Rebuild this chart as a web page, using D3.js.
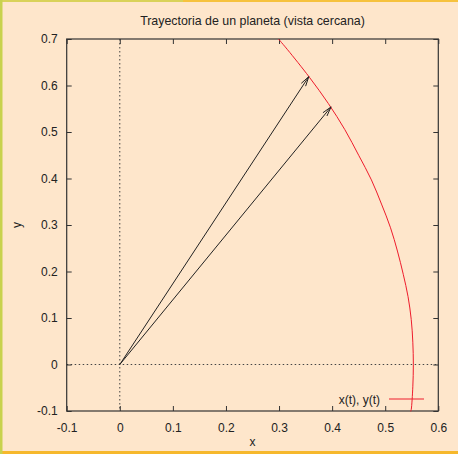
<!DOCTYPE html>
<html>
<head>
<meta charset="utf-8">
<script src="https://d3js.org/d3.v7.min.js"></script>
<style>
  body { margin: 0; background: #fee6cb; }
  svg { display: block; }
  text { font-family: "Liberation Sans", Arial, sans-serif; fill: #222; }
</style>
</head>
<body>
<script>
// orbit points (x, y)
var orbitX = [0.299, 0.316, 0.357, 0.393, 0.424, 0.450, 0.474, 0.493, 0.510, 0.523, 0.534, 0.543, 0.549, 0.552, 0.553, 0.552, 0.549, 0.548];
var orbitY = [0.700, 0.677, 0.618, 0.561, 0.505, 0.450, 0.397, 0.345, 0.294, 0.244, 0.194, 0.146, 0.097, 0.048, 0.000, -0.048, -0.097, -0.101];

// position vectors drawn as arrows from the origin
var arrowX = [0.356, 0.398];
var arrowY = [0.619, 0.554];

var xTicks = [-0.1, 0, 0.1, 0.2, 0.3, 0.4, 0.5, 0.6];
var yTicks = [-0.1, 0, 0.1, 0.2, 0.3, 0.4, 0.5, 0.6, 0.7];

var title = "Trayectoria de un planeta (vista cercana)";
var legendLabel = "x(t), y(t)";

var width = 458, height = 454;
var plotL = 66.7, plotR = 438.3, plotT = 39, plotB = 411;

var svg = d3.select("body").append("svg")
  .attr("width", width)
  .attr("height", height);

// page frame
svg.append("rect").attr("x", 0).attr("y", 0).attr("width", width).attr("height", height).attr("fill", "#fee6cb");
svg.append("rect").attr("x", 0).attr("y", 0).attr("width", 183).attr("height", 2).attr("fill", "#d9d25a");
svg.append("rect").attr("x", 183).attr("y", 0).attr("width", width - 183).attr("height", 2).attr("fill", "#f6c23e");
svg.append("rect").attr("x", 0).attr("y", 451).attr("width", width).attr("height", 3).attr("fill", "#f6b82c");
svg.append("rect").attr("x", 0).attr("y", 0).attr("width", 2.5).attr("height", height).attr("fill", "#c8d24e");

var x = d3.scaleLinear().domain([-0.1, 0.6]).range([plotL, plotR]);
var y = d3.scaleLinear().domain([-0.1, 0.7]).range([plotB, plotT]);

var fmt = function(d) { return d === 0 ? "0" : d3.format(".1f")(d).replace("\u2212", "-"); };

// zero axes (dotted)
svg.append("line")
  .attr("x1", x(0)).attr("x2", x(0)).attr("y1", plotT).attr("y2", plotB)
  .attr("stroke", "#444").attr("stroke-width", 1).attr("stroke-dasharray", "1.5,2.5");
svg.append("line")
  .attr("x1", plotL).attr("x2", plotR).attr("y1", y(0)).attr("y2", y(0))
  .attr("stroke", "#444").attr("stroke-width", 1).attr("stroke-dasharray", "1.5,2.5");

// axes with inward ticks, mirrored on top and right
var tickLen = 5;
var xAxis = svg.append("g").attr("transform", "translate(0," + plotB + ")")
  .call(d3.axisBottom(x).tickValues(xTicks).tickSize(-tickLen).tickPadding(12).tickFormat(fmt));
var xAxisTop = svg.append("g").attr("transform", "translate(0," + plotT + ")")
  .call(d3.axisTop(x).tickValues(xTicks).tickSize(-tickLen).tickFormat(""));
var yAxis = svg.append("g").attr("transform", "translate(" + plotL + ",0)")
  .call(d3.axisLeft(y).tickValues(yTicks).tickSize(-tickLen).tickPadding(9).tickFormat(fmt));
var yAxisRight = svg.append("g").attr("transform", "translate(" + plotR + ",0)")
  .call(d3.axisRight(y).tickValues(yTicks).tickSize(-tickLen).tickFormat(""));

[xAxis, xAxisTop, yAxis, yAxisRight].forEach(function(g) {
  g.select(".domain").remove();
  g.selectAll(".tick line").attr("stroke", "#333").attr("stroke-width", 1);
  g.selectAll(".tick text").attr("font-size", 12).attr("fill", "#222")
    .attr("font-family", "'Liberation Sans', Arial, sans-serif");
});

// frame
svg.append("rect")
  .attr("x", plotL).attr("y", plotT).attr("width", plotR - plotL).attr("height", plotB - plotT)
  .attr("fill", "none").attr("stroke", "#333").attr("stroke-width", 1.2);

// orbit
var orbit = orbitX.map(function(d, i) { return [d, orbitY[i]]; });
var line = d3.line().x(function(d) { return x(d[0]); }).y(function(d) { return y(d[1]); })
  .curve(d3.curveCatmullRom);
svg.append("path").datum(orbit)
  .attr("d", line).attr("fill", "none").attr("stroke", "#ee1c2c").attr("stroke-width", 1);

// arrows
arrowX.forEach(function(ax, i) {
  var x0 = x(0), y0 = y(0), x1 = x(ax), y1 = y(arrowY[i]);
  var ang = Math.atan2(y1 - y0, x1 - x0);
  var hl = 10, ha = 15 * Math.PI / 180;
  var g = svg.append("g").attr("stroke", "#222").attr("stroke-width", 1).attr("fill", "none");
  g.append("line").attr("x1", x0).attr("y1", y0).attr("x2", x1).attr("y2", y1);
  g.append("path").attr("d",
    "M" + (x1 - hl * Math.cos(ang - ha)) + "," + (y1 - hl * Math.sin(ang - ha)) +
    "L" + x1 + "," + y1 +
    "L" + (x1 - hl * Math.cos(ang + ha)) + "," + (y1 - hl * Math.sin(ang + ha)));
});

// title and labels
svg.append("text").attr("x", (plotL + plotR) / 2).attr("y", 24.5)
  .attr("text-anchor", "middle").attr("font-size", 12.4).text(title);
svg.append("text").attr("x", (plotL + plotR) / 2).attr("y", 446)
  .attr("text-anchor", "middle").attr("font-size", 12).text("x");
svg.append("text").attr("transform", "translate(21," + ((plotT + plotB) / 2) + ") rotate(-90)")
  .attr("text-anchor", "middle").attr("font-size", 12).text("y");

// legend
svg.append("text").attr("x", 380).attr("y", 403.5)
  .attr("text-anchor", "end").attr("font-size", 12).text(legendLabel);
svg.append("line").attr("x1", 389).attr("x2", 424).attr("y1", 399).attr("y2", 399)
  .attr("stroke", "#ee1c2c").attr("stroke-width", 1);
</script>
</body>
</html>
